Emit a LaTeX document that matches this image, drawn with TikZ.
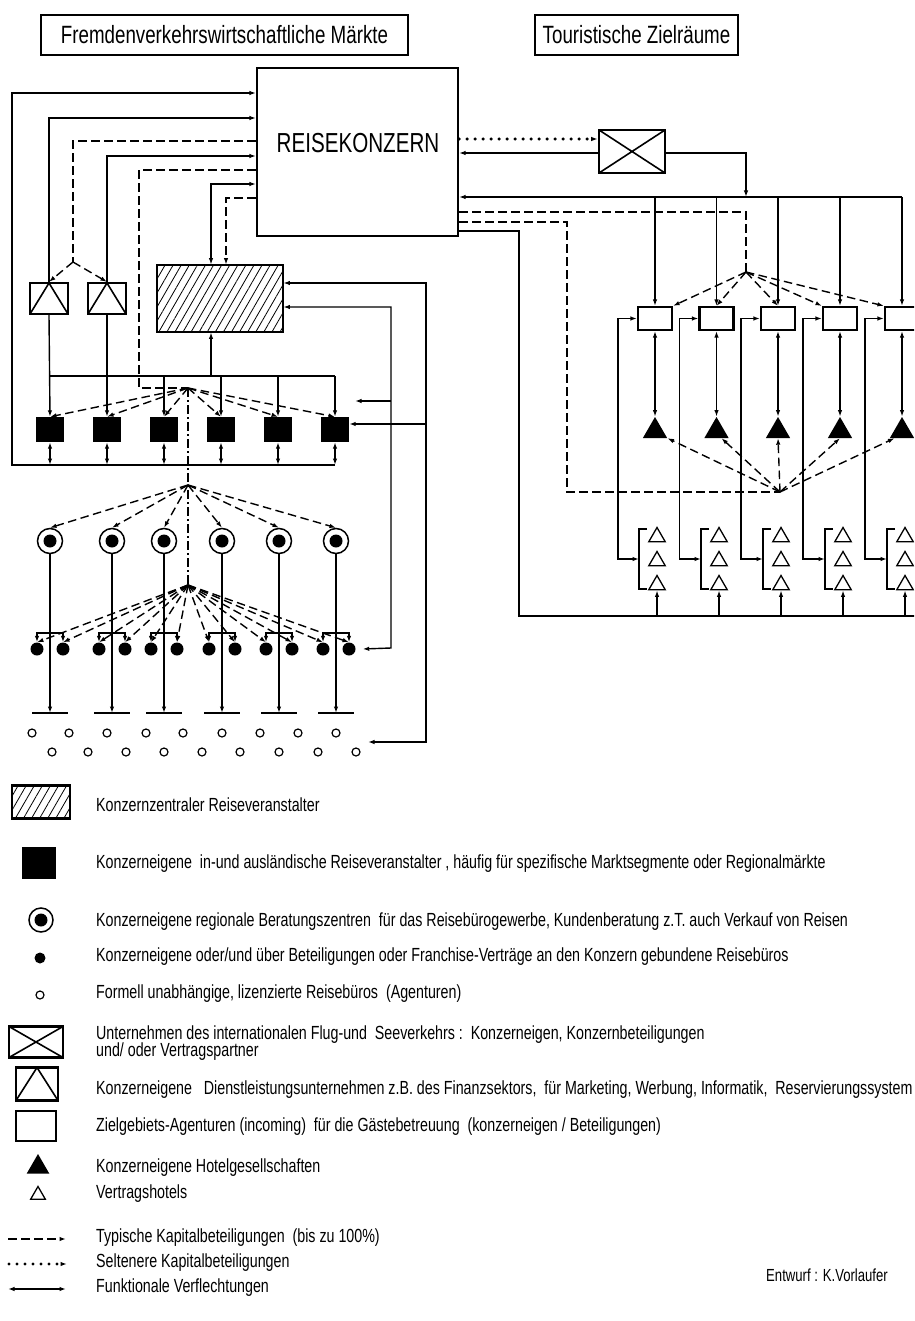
\documentclass[tikz,border=0pt]{standalone}
\usepackage{fontspec}
\setmainfont[FakeStretch=0.75]{Liberation Sans}
\usetikzlibrary{arrows.meta,shapes.geometric,patterns.meta,calc}
\begin{document}
\begin{tikzpicture}[x=1pt,y=-1pt,
  conn/.style={line width=1.4pt},
  arr/.style={-{Latex[length=6.5pt,width=4.5pt]}},
  darr/.style={{Latex[length=6.5pt,width=4.5pt]}-{Latex[length=6.5pt,width=4.5pt]}},
  dsh/.style={conn,dash pattern=on 8.5pt off 4.5pt},
  dotline/.style={line width=3.4pt,dash pattern=on 0pt off 8pt,line cap=round},
  dashdot/.style={conn,dash pattern=on 9pt off 3pt on 2pt off 3pt},
  hdr/.style={draw,line width=2.2pt,inner sep=0pt,minimum height=40pt,font=\fontsize{25}{28}\selectfont},
  bx/.style={draw,line width=2.2pt,inner sep=0pt},
  blk/.style={fill=black,inner sep=0pt,minimum width=28pt,minimum height=25pt},
  cdot/.style={circle,draw,line width=1.5pt,minimum size=25pt,inner sep=0pt,path picture={\fill (path picture bounding box.center) circle (6.5pt);}},
  bdot/.style={circle,fill=black,minimum size=13pt,inner sep=0pt},
  odot/.style={circle,draw,line width=1.2pt,minimum size=8pt,inner sep=0pt},
  ftri/.style={regular polygon,regular polygon sides=3,fill=black,minimum size=28pt,inner sep=0pt},
  otri/.style={regular polygon,regular polygon sides=3,draw,line width=1.3pt,minimum size=19pt,inner sep=0pt},
  dbox/.style={bx,minimum width=38pt,minimum height=31pt,path picture={\draw[line width=1.6pt] (path picture bounding box.south west) -- (path picture bounding box.north) -- (path picture bounding box.south east);}},
  xbox/.style={bx,line width=2.6pt,path picture={\draw[line width=1.6pt] (path picture bounding box.south west) -- (path picture bounding box.north east) (path picture bounding box.north west) -- (path picture bounding box.south east);}},
  abox/.style={bx,minimum width=34pt,minimum height=23pt},
  hatch/.style={bx,pattern={Lines[angle=60,distance=7pt,line width=0.8pt]}},
  leg/.style={anchor=west,inner sep=0pt,font=\fontsize{19}{22}\selectfont},
]
\fill[white] (0,0) rectangle (914,1321);
\useasboundingbox (0,0) rectangle (914,1321);
\clip (0,0) rectangle (914,1321);

% headers
\node[hdr,minimum width=367pt] (H1) at (224.5,35) {Fremdenverkehrswirtschaftliche Märkte};
\node[hdr,minimum width=203pt] (H2) at (636.5,35) {Touristische Zielräume};

% main boxes
\node[bx,minimum width=201pt,minimum height=168pt] (RK) at (357.5,152) {};
\node[inner sep=0pt,font=\fontsize{27.5}{30}\selectfont] (RKt) at (358,143) {REISEKONZERN};
\node[xbox,minimum width=66pt,minimum height=43pt] (X) at (632,151.5) {};
\node[hatch,minimum width=126pt,minimum height=67pt] (HB) at (220,298.5) {};
\node[dbox] (D1) at (49,298.5) {};
\node[dbox] (D2) at (107,298.5) {};

\foreach \i/\x in {1/50,2/107,3/164,4/221,5/278,6/335} {\node[blk] (S\i) at (\x,429.5) {};}
\foreach \i/\x in {1/50,2/112,3/164,4/222,5/279,6/336} {
  \node[cdot] (C\i) at (\x,541) {};
  \node[bdot] (Pa\i) at (\x-13,649) {};
  \node[bdot] (Pb\i) at (\x+13,649) {};
  \coordinate (B\i) at (\x,713);
  \coordinate (K\i) at (\x,633);
}
\foreach \x [count=\k] in {32,69,107,146,183,222,260,298,336} {\node[odot] (Ou\k) at (\x,733) {};}
\foreach \x [count=\k] in {52,88,126,164,202,240,279,318,356} {\node[odot] (Ol\k) at (\x,752) {};}

% forks / free ends
\coordinate (F1) at (73,262);
\coordinate (F2) at (188,388);
\coordinate (G1) at (188,485);
\coordinate (G2) at (188,585);
\coordinate (F4) at (746,272);
\coordinate (F5) at (780,492);
\coordinate (E1) at (355,401);
\coordinate (E2) at (368,742);

% ---------- left connectors ----------
\draw[conn,arr] (S6.south |- 0,465) -- (12,465) -- (12,93) -- (RK.west |- 0,93);
\foreach \i in {1,...,6} {\draw[conn,darr] (S\i.south) -- (S\i.south |- 0,465);}
\draw[conn,arr] (D1.north) -- (D1.north |- 0,118) -- (RK.west |- 0,118);
\draw[dsh] (RK.west |- 0,141) -- (73,141) -- (F1);
\draw[dsh,arr] (F1) -- (D1.north);
\draw[dsh,arr] (F1) -- (D2.north);
\draw[conn,arr] (D2.north) -- (D2.north |- 0,156) -- (RK.west |- 0,156);
\draw[dsh] (RK.west |- 0,170) -- (139,170) -- (139,388) -- (F2);
\foreach \i in {1,...,6} {\draw[dsh,arr] (F2) -- (S\i.north);}
\draw[conn,darr] (RK.west |- 0,184) -- (211,184) -- (211,0 |- HB.north);
\draw[dsh,arr] (RK.west |- 0,198) -- (226,198) -- (226,0 |- HB.north);
\draw[conn,arr] (D1.south) -- (S1.north);
\draw[conn,arr] (D2.south) -- (S2.north);
\draw[conn] (D1.south |- 0,376) -- (S6.north |- 0,376);
\foreach \i in {3,...,6} {\draw[conn,arr] (S\i.north |- 0,376) -- (S\i.north);}
\draw[conn,arr] (211,376) -- (211,0 |- HB.south);
% right-hand verticals of the left part
\draw[conn,darr] (HB.east |- 0,307) -- (391,307) -- (391,648) -- ($(Pb6.east)+(7,0)$);
\draw[conn,arr] (391,401) -- (E1);
\draw[conn,darr] (HB.east |- 0,283) -- (426,283) -- (426,742) -- (E2);
\draw[conn,arr] (426,424) -- (S6.east |- 0,424);
% fans
\draw[dashdot] (F2) -- (G1) -- (G2);
\foreach \i in {1,...,6} {
  \draw[dsh,arr] (G1) -- (C\i.north);
  \draw[dsh,arr] (G2) -- (Pa\i.north);
  \draw[dsh,arr] (G2) -- (Pb\i.north);
  \draw[conn,arr] (C\i.south) -- (B\i);
  \draw[conn] ($(B\i)+(-18,0)$) -- ($(B\i)+(18,0)$);
  \draw[conn,arr] (K\i) -| (Pa\i.north);
  \draw[conn,arr] (K\i) -| (Pb\i.north);
}

% ---------- right part ----------
\foreach \i/\x/\t in {1/655/657,2/716.5/719,3/778/781,4/840/843,5/902/905} {
  \node[abox] (A\i) at (\x,318.5) {};
  \node[ftri] (T\i) at (\x,431) {};
  \node[otri] (Va\i) at (\t,537) {};
  \node[otri] (Vb\i) at (\t,561) {};
  \node[otri] (Vc\i) at (\t,585) {};
  \coordinate (Q\i) at (\t-18,559);
  \draw[conn] (\t-10,529) -- (\t-18,529) -- (\t-18,589) -- (\t-10,589);
  \draw[conn,arr] (A\i.north |- 0,197) -- (A\i.north);
  \draw[conn,darr] (A\i.south) -- (T\i.corner 1);
  \draw[conn,darr] (A\i.west) -- ++(-19,0) |- (Q\i);
  \draw[conn,arr] (\t,616) -- (Vc\i.side 2);
}
\draw[dotline,arr] (RK.east |- 0,139) -- (X.west |- 0,139);
\draw[conn,arr] (X.west |- 0,153) -- (RK.east |- 0,153);
\draw[conn,arr] (X.east |- 0,153) -- (746,153) -- (746,197);
\draw[conn,arr] (A5.north |- 0,197) -- (RK.east |- 0,197);
\draw[dsh] (RK.east |- 0,212) -- (746,212) -- (F4);
\draw[dsh,arr] (F4) -- (A1.north east);
\draw[dsh,arr] (F4) -- (A2.north);
\draw[dsh,arr] (F4) -- (A3.north);
\draw[dsh,arr] (F4) -- (A4.north west);
\draw[dsh,arr] (F4) -- (A5.north west);
\draw[dsh] (RK.east |- 0,222) -- (567,222) -- (567,492) -- (F5);
\draw[dsh,arr] (F5) -- (T1.corner 3);
\draw[dsh,arr] (F5) -- ($(T2.side 2)!0.4!(T2.corner 3)$);
\draw[dsh,arr] (F5) -- (T3.side 2);
\draw[dsh,arr] (F5) -- (T4.side 2);
\draw[dsh,arr] (F5) -- ($(T5.side 2)!0.6!(T5.corner 2)$);
\draw[conn] (RK.east |- 0,231) -- (519,231) -- (519,616) -- (930,616);

% ---------- legend ----------
\node[hatch,minimum width=58pt,minimum height=33pt] (LG1) at (41,802) {};
\node[blk,minimum width=34pt,minimum height=32pt] (LG2) at (39,863) {};
\node[cdot,minimum size=24pt] (LG3) at (41,920) {};
\node[bdot,minimum size=11pt] (LG4) at (40,958) {};
\node[odot] (LG5) at (40,995) {};
\node[xbox,minimum width=54pt,minimum height=31pt] (LG6) at (36,1042) {};
\node[dbox,minimum width=42pt,minimum height=33pt] (LG7) at (37,1084) {};
\node[abox,minimum width=40pt,minimum height=30pt] (LG8) at (36,1126) {};
\node[ftri,minimum size=26pt] (LG9) at (38,1167) {};
\node[otri,minimum size=17pt] (LG10) at (38,1195) {};
\coordinate (LA1) at (8,1239); \coordinate (LA2) at (66,1239);
\coordinate (LB1) at (9,1264); \coordinate (LB2) at (67,1264);
\coordinate (LC1) at (8,1289); \coordinate (LC2) at (66,1289);
\draw[dsh,arr] (LA1) -- (LA2);
\draw[dotline,arr] (LB1) -- (LB2);
\draw[conn,darr] (LC1) -- (LC2);

\node[leg] (LT1) at (96,805) {Konzernzentraler Reiseveranstalter};
\node[leg] (LT2) at (96,864) {Konzerneigene\ \ in-und ausländische Reiseveranstalter , häufig für spezifische Marktsegmente oder Regionalmärkte};
\node[leg] (LT3) at (96,922) {Konzerneigene regionale Beratungszentren\ \ für das Reisebürogewerbe, Kundenberatung z.T. auch Verkauf von Reisen};
\node[leg] (LT4) at (96,957) {Konzerneigene oder/und über Beteiligungen oder Franchise-Verträge an den Konzern gebundene Reisebüros};
\node[leg] (LT5) at (96,994) {Formell unabhängige, lizenzierte Reisebüros\ \ (Agenturen)};
\node[leg] (LT6) at (96,1035) {Unternehmen des internationalen Flug-und\ \ Seeverkehrs :\ \ Konzerneigen, Konzernbeteiligungen};
\node[leg] (LT6b) at (96,1052) {und/ oder Vertragspartner};
\node[leg] (LT7) at (96,1090) {Konzerneigene\ \ \ Dienstleistungsunternehmen z.B. des Finanzsektors,\ \ für Marketing, Werbung, Informatik,\ \ Reservierungssystem};
\node[leg] (LT8) at (96,1127) {Zielgebiets-Agenturen (incoming)\ \ für die Gästebetreuung\ \ (konzerneigen / Beteiligungen)};
\node[leg] (LT9) at (96,1168) {Konzerneigene Hotelgesellschaften};
\node[leg] (LT10) at (96,1194) {Vertragshotels};
\node[leg] (LT11) at (96,1238) {Typische Kapitalbeteiligungen\ \ (bis zu 100\%)};
\node[leg] (LT12) at (96,1263) {Seltenere Kapitalbeteiligungen};
\node[leg] (LT13) at (96,1288) {Funktionale Verflechtungen};
\node[anchor=west,inner sep=0pt,font=\fontsize{17.5}{20}\selectfont] (ENT) at (766,1275) {Entwurf : K.Vorlaufer};
\end{tikzpicture}
\end{document}
